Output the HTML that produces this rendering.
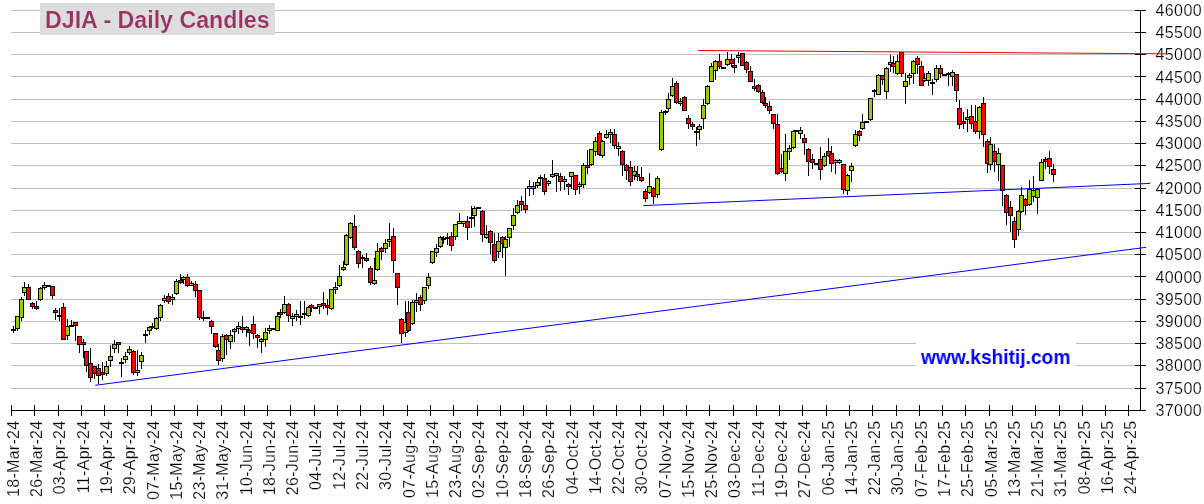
<!DOCTYPE html>
<html><head><meta charset="utf-8"><style>
html,body{margin:0;padding:0;background:#fff;}
body{width:1204px;height:504px;overflow:hidden;position:relative;}
svg{position:absolute;left:0;top:0;will-change:transform;}
.yl{font-family:"Liberation Sans",Arial,sans-serif;font-size:16px;fill:#000;stroke:#fff;stroke-width:0.2px;letter-spacing:0.4px;}
.xl{font-family:"Liberation Sans",Arial,sans-serif;font-size:16px;fill:#000;stroke:#fff;stroke-width:0.2px;text-anchor:end;letter-spacing:0.3px;}
.title{will-change:transform;position:absolute;left:40px;top:3px;width:235px;height:32px;background:#dddddd;}
.title span{position:absolute;left:4.9px;top:0.8px;transform:scaleX(0.966);transform-origin:0 0;font-family:"Liberation Sans",Arial,sans-serif;font-weight:bold;font-size:24px;line-height:32px;color:#993366;white-space:nowrap;-webkit-text-stroke:0.2px #dddddd;}
.wm{will-change:transform;position:absolute;left:921.4px;top:344.8px;transform:scaleX(0.934);transform-origin:0 0;font-family:"Liberation Sans",Arial,sans-serif;font-weight:bold;font-size:20.5px;line-height:24px;color:#0000ff;white-space:nowrap;}
</style></head><body>
<svg width="1204" height="504" viewBox="0 0 1204 504">
<line x1="11" y1="10.5" x2="1140" y2="10.5" stroke="#c0c0c0" stroke-width="1"/>
<line x1="11" y1="32.5" x2="1140" y2="32.5" stroke="#c0c0c0" stroke-width="1"/>
<line x1="11" y1="54.5" x2="1140" y2="54.5" stroke="#c0c0c0" stroke-width="1"/>
<line x1="11" y1="76.5" x2="1140" y2="76.5" stroke="#c0c0c0" stroke-width="1"/>
<line x1="11" y1="99.5" x2="1140" y2="99.5" stroke="#c0c0c0" stroke-width="1"/>
<line x1="11" y1="121.5" x2="1140" y2="121.5" stroke="#c0c0c0" stroke-width="1"/>
<line x1="11" y1="143.5" x2="1140" y2="143.5" stroke="#c0c0c0" stroke-width="1"/>
<line x1="11" y1="165.5" x2="1140" y2="165.5" stroke="#c0c0c0" stroke-width="1"/>
<line x1="11" y1="188.5" x2="1140" y2="188.5" stroke="#c0c0c0" stroke-width="1"/>
<line x1="11" y1="210.5" x2="1140" y2="210.5" stroke="#c0c0c0" stroke-width="1"/>
<line x1="11" y1="232.5" x2="1140" y2="232.5" stroke="#c0c0c0" stroke-width="1"/>
<line x1="11" y1="254.5" x2="1140" y2="254.5" stroke="#c0c0c0" stroke-width="1"/>
<line x1="11" y1="276.5" x2="1140" y2="276.5" stroke="#c0c0c0" stroke-width="1"/>
<line x1="11" y1="299.5" x2="1140" y2="299.5" stroke="#c0c0c0" stroke-width="1"/>
<line x1="11" y1="321.5" x2="1140" y2="321.5" stroke="#c0c0c0" stroke-width="1"/>
<line x1="11" y1="343.5" x2="1140" y2="343.5" stroke="#c0c0c0" stroke-width="1"/>
<line x1="11" y1="365.5" x2="1140" y2="365.5" stroke="#c0c0c0" stroke-width="1"/>
<line x1="11" y1="388.5" x2="1140" y2="388.5" stroke="#c0c0c0" stroke-width="1"/>
<rect x="916" y="338" width="160" height="34" fill="#ffffff"/>
<g shape-rendering="crispEdges" fill="#000"><rect x="13" y="326" width="1" height="7"/><rect x="11" y="329" width="5" height="2"/><rect x="17" y="316" width="1" height="15"/><rect x="15" y="316" width="5" height="13"/><rect x="16" y="317" width="3" height="11" fill="#99cc00"/><rect x="21" y="297" width="1" height="24"/><rect x="19" y="299" width="5" height="19"/><rect x="20" y="300" width="3" height="17" fill="#99cc00"/><rect x="24" y="282" width="1" height="14"/><rect x="22" y="287" width="5" height="6"/><rect x="23" y="288" width="3" height="4" fill="#99cc00"/><rect x="28" y="284" width="1" height="16"/><rect x="26" y="287" width="5" height="13"/><rect x="27" y="288" width="3" height="11" fill="#ff0000"/><rect x="32" y="302" width="1" height="7"/><rect x="30" y="303" width="5" height="4"/><rect x="31" y="304" width="3" height="2" fill="#ff0000"/><rect x="36" y="301" width="1" height="9"/><rect x="34" y="306" width="5" height="3"/><rect x="35" y="307" width="3" height="1" fill="#ff0000"/><rect x="40" y="287" width="1" height="14"/><rect x="38" y="288" width="5" height="12"/><rect x="39" y="289" width="3" height="10" fill="#99cc00"/><rect x="44" y="282" width="1" height="8"/><rect x="42" y="285" width="5" height="3"/><rect x="43" y="286" width="3" height="1" fill="#99cc00"/><rect x="46" y="285" width="5" height="2"/><rect x="52" y="286" width="1" height="13"/><rect x="50" y="286" width="5" height="10"/><rect x="51" y="287" width="3" height="8" fill="#ff0000"/><rect x="55" y="308" width="1" height="12"/><rect x="53" y="310" width="5" height="3"/><rect x="54" y="311" width="3" height="1" fill="#ff0000"/><rect x="59" y="308" width="1" height="13"/><rect x="57" y="315" width="5" height="2"/><rect x="63" y="303" width="1" height="37"/><rect x="61" y="307" width="5" height="33"/><rect x="62" y="308" width="3" height="31" fill="#ff0000"/><rect x="67" y="319" width="1" height="21"/><rect x="65" y="326" width="5" height="10"/><rect x="66" y="327" width="3" height="8" fill="#99cc00"/><rect x="71" y="320" width="1" height="7"/><rect x="69" y="325" width="5" height="2"/><rect x="75" y="322" width="1" height="19"/><rect x="73" y="322" width="5" height="4"/><rect x="74" y="323" width="3" height="2" fill="#ff0000"/><rect x="79" y="336" width="1" height="17"/><rect x="77" y="336" width="5" height="9"/><rect x="78" y="337" width="3" height="7" fill="#ff0000"/><rect x="83" y="339" width="1" height="19"/><rect x="81" y="342" width="5" height="3"/><rect x="82" y="343" width="3" height="1" fill="#ff0000"/><rect x="86" y="351" width="1" height="21"/><rect x="84" y="351" width="5" height="15"/><rect x="85" y="352" width="3" height="13" fill="#ff0000"/><rect x="90" y="348" width="1" height="34"/><rect x="88" y="363" width="5" height="15"/><rect x="89" y="364" width="3" height="13" fill="#ff0000"/><rect x="94" y="366" width="1" height="13"/><rect x="92" y="366" width="5" height="8"/><rect x="93" y="367" width="3" height="6" fill="#ff0000"/><rect x="98" y="364" width="1" height="20"/><rect x="96" y="368" width="5" height="8"/><rect x="97" y="369" width="3" height="6" fill="#ff0000"/><rect x="102" y="362" width="1" height="18"/><rect x="100" y="372" width="5" height="3"/><rect x="101" y="373" width="3" height="1" fill="#ff0000"/><rect x="106" y="361" width="1" height="15"/><rect x="104" y="366" width="5" height="8"/><rect x="105" y="367" width="3" height="6" fill="#99cc00"/><rect x="110" y="345" width="1" height="22"/><rect x="108" y="356" width="5" height="5"/><rect x="109" y="357" width="3" height="3" fill="#99cc00"/><rect x="114" y="340" width="1" height="13"/><rect x="112" y="344" width="5" height="5"/><rect x="113" y="345" width="3" height="3" fill="#99cc00"/><rect x="118" y="342" width="1" height="11"/><rect x="116" y="342" width="5" height="3"/><rect x="117" y="343" width="3" height="1" fill="#ff0000"/><rect x="121" y="358" width="1" height="19"/><rect x="119" y="362" width="5" height="2"/><rect x="125" y="352" width="1" height="11"/><rect x="123" y="356" width="5" height="4"/><rect x="124" y="357" width="3" height="2" fill="#99cc00"/><rect x="129" y="346" width="1" height="9"/><rect x="127" y="349" width="5" height="4"/><rect x="128" y="350" width="3" height="2" fill="#99cc00"/><rect x="133" y="350" width="1" height="25"/><rect x="131" y="351" width="5" height="22"/><rect x="132" y="352" width="3" height="20" fill="#ff0000"/><rect x="137" y="350" width="1" height="26"/><rect x="135" y="370" width="5" height="3"/><rect x="136" y="371" width="3" height="1" fill="#99cc00"/><rect x="141" y="352" width="1" height="17"/><rect x="139" y="355" width="5" height="7"/><rect x="140" y="356" width="3" height="5" fill="#99cc00"/><rect x="145" y="330" width="1" height="13"/><rect x="143" y="334" width="5" height="2"/><rect x="149" y="326" width="1" height="9"/><rect x="147" y="327" width="5" height="4"/><rect x="148" y="328" width="3" height="2" fill="#99cc00"/><rect x="152" y="323" width="1" height="6"/><rect x="150" y="326" width="5" height="2"/><rect x="156" y="317" width="1" height="13"/><rect x="154" y="318" width="5" height="11"/><rect x="155" y="319" width="3" height="9" fill="#99cc00"/><rect x="160" y="304" width="1" height="17"/><rect x="158" y="305" width="5" height="13"/><rect x="159" y="306" width="3" height="11" fill="#99cc00"/><rect x="164" y="295" width="1" height="8"/><rect x="162" y="298" width="5" height="3"/><rect x="163" y="299" width="3" height="1" fill="#99cc00"/><rect x="168" y="293" width="1" height="11"/><rect x="166" y="296" width="5" height="6"/><rect x="167" y="297" width="3" height="4" fill="#ff0000"/><rect x="172" y="294" width="1" height="11"/><rect x="170" y="297" width="5" height="3"/><rect x="171" y="298" width="3" height="1" fill="#99cc00"/><rect x="176" y="279" width="1" height="16"/><rect x="174" y="281" width="5" height="13"/><rect x="175" y="282" width="3" height="11" fill="#99cc00"/><rect x="180" y="274" width="1" height="10"/><rect x="178" y="280" width="5" height="3"/><rect x="179" y="281" width="3" height="1" fill="#ff0000"/><rect x="183" y="276" width="1" height="8"/><rect x="181" y="277" width="5" height="3"/><rect x="182" y="278" width="3" height="1" fill="#99cc00"/><rect x="187" y="274" width="1" height="13"/><rect x="185" y="277" width="5" height="9"/><rect x="186" y="278" width="3" height="7" fill="#ff0000"/><rect x="191" y="281" width="1" height="5"/><rect x="189" y="283" width="5" height="3"/><rect x="190" y="284" width="3" height="1" fill="#99cc00"/><rect x="195" y="281" width="1" height="16"/><rect x="193" y="284" width="5" height="7"/><rect x="194" y="285" width="3" height="5" fill="#ff0000"/><rect x="199" y="290" width="1" height="30"/><rect x="197" y="290" width="5" height="28"/><rect x="198" y="291" width="3" height="26" fill="#ff0000"/><rect x="203" y="311" width="1" height="10"/><rect x="201" y="317" width="5" height="2"/><rect x="205" y="317" width="5" height="2"/><rect x="211" y="320" width="1" height="14"/><rect x="209" y="321" width="5" height="6"/><rect x="210" y="322" width="3" height="4" fill="#ff0000"/><rect x="215" y="333" width="1" height="15"/><rect x="213" y="333" width="5" height="14"/><rect x="214" y="334" width="3" height="12" fill="#ff0000"/><rect x="218" y="344" width="1" height="21"/><rect x="216" y="350" width="5" height="11"/><rect x="217" y="351" width="3" height="9" fill="#ff0000"/><rect x="222" y="334" width="1" height="28"/><rect x="220" y="336" width="5" height="23"/><rect x="221" y="337" width="3" height="21" fill="#99cc00"/><rect x="226" y="334" width="1" height="21"/><rect x="224" y="335" width="5" height="5"/><rect x="225" y="336" width="3" height="3" fill="#ff0000"/><rect x="230" y="330" width="1" height="19"/><rect x="228" y="335" width="5" height="7"/><rect x="229" y="336" width="3" height="5" fill="#99cc00"/><rect x="234" y="328" width="1" height="14"/><rect x="232" y="329" width="5" height="3"/><rect x="233" y="330" width="3" height="1" fill="#99cc00"/><rect x="238" y="322" width="1" height="12"/><rect x="236" y="326" width="5" height="3"/><rect x="237" y="327" width="3" height="1" fill="#99cc00"/><rect x="242" y="316" width="1" height="17"/><rect x="240" y="327" width="5" height="3"/><rect x="241" y="328" width="3" height="1" fill="#ff0000"/><rect x="246" y="326" width="1" height="11"/><rect x="244" y="327" width="5" height="3"/><rect x="245" y="328" width="3" height="1" fill="#99cc00"/><rect x="249" y="329" width="1" height="17"/><rect x="247" y="330" width="5" height="3"/><rect x="248" y="331" width="3" height="1" fill="#ff0000"/><rect x="253" y="316" width="1" height="23"/><rect x="251" y="324" width="5" height="10"/><rect x="252" y="325" width="3" height="8" fill="#ff0000"/><rect x="257" y="334" width="1" height="14"/><rect x="255" y="335" width="5" height="3"/><rect x="256" y="336" width="3" height="1" fill="#ff0000"/><rect x="261" y="338" width="1" height="15"/><rect x="259" y="339" width="5" height="3"/><rect x="260" y="340" width="3" height="1" fill="#99cc00"/><rect x="265" y="328" width="1" height="19"/><rect x="263" y="332" width="5" height="8"/><rect x="264" y="333" width="3" height="6" fill="#99cc00"/><rect x="269" y="325" width="1" height="9"/><rect x="267" y="328" width="5" height="3"/><rect x="268" y="329" width="3" height="1" fill="#99cc00"/><rect x="271" y="328" width="5" height="2"/><rect x="277" y="312" width="1" height="19"/><rect x="275" y="316" width="5" height="15"/><rect x="276" y="317" width="3" height="13" fill="#99cc00"/><rect x="280" y="309" width="1" height="9"/><rect x="278" y="312" width="5" height="3"/><rect x="279" y="313" width="3" height="1" fill="#ff0000"/><rect x="284" y="296" width="1" height="18"/><rect x="282" y="304" width="5" height="9"/><rect x="283" y="305" width="3" height="7" fill="#99cc00"/><rect x="288" y="303" width="1" height="19"/><rect x="286" y="304" width="5" height="12"/><rect x="287" y="305" width="3" height="10" fill="#ff0000"/><rect x="292" y="313" width="1" height="13"/><rect x="290" y="316" width="5" height="3"/><rect x="291" y="317" width="3" height="1" fill="#99cc00"/><rect x="296" y="310" width="1" height="11"/><rect x="294" y="314" width="5" height="3"/><rect x="295" y="315" width="3" height="1" fill="#99cc00"/><rect x="300" y="301" width="1" height="24"/><rect x="298" y="316" width="5" height="2"/><rect x="304" y="301" width="1" height="18"/><rect x="302" y="313" width="5" height="2"/><rect x="308" y="306" width="1" height="11"/><rect x="306" y="307" width="5" height="9"/><rect x="307" y="308" width="3" height="7" fill="#99cc00"/><rect x="311" y="304" width="1" height="8"/><rect x="309" y="305" width="5" height="3"/><rect x="310" y="306" width="3" height="1" fill="#ff0000"/><rect x="313" y="307" width="5" height="2"/><rect x="319" y="304" width="1" height="10"/><rect x="317" y="304" width="5" height="3"/><rect x="318" y="305" width="3" height="1" fill="#99cc00"/><rect x="323" y="292" width="1" height="17"/><rect x="321" y="303" width="5" height="3"/><rect x="322" y="304" width="3" height="1" fill="#ff0000"/><rect x="327" y="299" width="1" height="16"/><rect x="325" y="305" width="5" height="3"/><rect x="326" y="306" width="3" height="1" fill="#ff0000"/><rect x="331" y="289" width="1" height="21"/><rect x="329" y="289" width="5" height="20"/><rect x="330" y="290" width="3" height="18" fill="#99cc00"/><rect x="335" y="282" width="1" height="12"/><rect x="333" y="287" width="5" height="3"/><rect x="334" y="288" width="3" height="1" fill="#99cc00"/><rect x="339" y="265" width="1" height="22"/><rect x="337" y="276" width="5" height="10"/><rect x="338" y="277" width="3" height="8" fill="#99cc00"/><rect x="343" y="261" width="1" height="10"/><rect x="341" y="267" width="5" height="3"/><rect x="342" y="268" width="3" height="1" fill="#99cc00"/><rect x="346" y="234" width="1" height="32"/><rect x="344" y="235" width="5" height="30"/><rect x="345" y="236" width="3" height="28" fill="#99cc00"/><rect x="350" y="222" width="1" height="17"/><rect x="348" y="223" width="5" height="15"/><rect x="349" y="224" width="3" height="13" fill="#99cc00"/><rect x="354" y="215" width="1" height="35"/><rect x="352" y="226" width="5" height="22"/><rect x="353" y="227" width="3" height="20" fill="#ff0000"/><rect x="358" y="250" width="1" height="18"/><rect x="356" y="251" width="5" height="13"/><rect x="357" y="252" width="3" height="11" fill="#ff0000"/><rect x="362" y="255" width="1" height="13"/><rect x="360" y="257" width="5" height="2"/><rect x="366" y="253" width="1" height="9"/><rect x="364" y="258" width="5" height="3"/><rect x="365" y="259" width="3" height="1" fill="#ff0000"/><rect x="370" y="266" width="1" height="19"/><rect x="368" y="268" width="5" height="15"/><rect x="369" y="269" width="3" height="13" fill="#ff0000"/><rect x="374" y="258" width="1" height="27"/><rect x="372" y="280" width="5" height="4"/><rect x="373" y="281" width="3" height="2" fill="#99cc00"/><rect x="377" y="243" width="1" height="28"/><rect x="375" y="251" width="5" height="19"/><rect x="376" y="252" width="3" height="17" fill="#99cc00"/><rect x="381" y="247" width="1" height="13"/><rect x="379" y="248" width="5" height="4"/><rect x="380" y="249" width="3" height="2" fill="#ff0000"/><rect x="385" y="239" width="1" height="14"/><rect x="383" y="243" width="5" height="6"/><rect x="384" y="244" width="3" height="4" fill="#99cc00"/><rect x="389" y="223" width="1" height="24"/><rect x="387" y="239" width="5" height="3"/><rect x="388" y="240" width="3" height="1" fill="#99cc00"/><rect x="393" y="228" width="1" height="45"/><rect x="391" y="236" width="5" height="25"/><rect x="392" y="237" width="3" height="23" fill="#ff0000"/><rect x="397" y="273" width="1" height="32"/><rect x="395" y="273" width="5" height="15"/><rect x="396" y="274" width="3" height="13" fill="#ff0000"/><rect x="401" y="318" width="1" height="25"/><rect x="399" y="319" width="5" height="15"/><rect x="400" y="320" width="3" height="13" fill="#ff0000"/><rect x="405" y="301" width="1" height="36"/><rect x="403" y="322" width="5" height="11"/><rect x="404" y="323" width="3" height="9" fill="#99cc00"/><rect x="408" y="301" width="1" height="31"/><rect x="406" y="312" width="5" height="19"/><rect x="407" y="313" width="3" height="17" fill="#ff0000"/><rect x="412" y="300" width="1" height="25"/><rect x="410" y="302" width="5" height="22"/><rect x="411" y="303" width="3" height="20" fill="#99cc00"/><rect x="416" y="293" width="1" height="19"/><rect x="414" y="300" width="5" height="3"/><rect x="415" y="301" width="3" height="1" fill="#99cc00"/><rect x="420" y="295" width="1" height="16"/><rect x="418" y="297" width="5" height="8"/><rect x="419" y="298" width="3" height="6" fill="#ff0000"/><rect x="424" y="287" width="1" height="17"/><rect x="422" y="287" width="5" height="14"/><rect x="423" y="288" width="3" height="12" fill="#99cc00"/><rect x="428" y="273" width="1" height="16"/><rect x="426" y="277" width="5" height="9"/><rect x="427" y="278" width="3" height="7" fill="#99cc00"/><rect x="432" y="251" width="1" height="13"/><rect x="430" y="251" width="5" height="12"/><rect x="431" y="252" width="3" height="10" fill="#99cc00"/><rect x="436" y="244" width="1" height="13"/><rect x="434" y="248" width="5" height="5"/><rect x="435" y="249" width="3" height="3" fill="#99cc00"/><rect x="440" y="236" width="1" height="12"/><rect x="438" y="237" width="5" height="10"/><rect x="439" y="238" width="3" height="8" fill="#99cc00"/><rect x="443" y="236" width="1" height="8"/><rect x="441" y="238" width="5" height="2"/><rect x="447" y="233" width="1" height="12"/><rect x="445" y="237" width="5" height="2"/><rect x="451" y="232" width="1" height="19"/><rect x="449" y="236" width="5" height="10"/><rect x="450" y="237" width="3" height="8" fill="#ff0000"/><rect x="455" y="224" width="1" height="16"/><rect x="453" y="224" width="5" height="13"/><rect x="454" y="225" width="3" height="11" fill="#99cc00"/><rect x="459" y="213" width="1" height="11"/><rect x="457" y="221" width="5" height="3"/><rect x="458" y="222" width="3" height="1" fill="#99cc00"/><rect x="463" y="221" width="1" height="6"/><rect x="461" y="221" width="5" height="3"/><rect x="462" y="222" width="3" height="1" fill="#99cc00"/><rect x="467" y="216" width="1" height="24"/><rect x="465" y="221" width="5" height="7"/><rect x="466" y="222" width="3" height="5" fill="#ff0000"/><rect x="471" y="206" width="1" height="22"/><rect x="469" y="217" width="5" height="2"/><rect x="474" y="206" width="1" height="21"/><rect x="472" y="208" width="5" height="8"/><rect x="473" y="209" width="3" height="6" fill="#99cc00"/><rect x="476" y="207" width="5" height="2"/><rect x="482" y="210" width="1" height="32"/><rect x="480" y="211" width="5" height="24"/><rect x="481" y="212" width="3" height="22" fill="#ff0000"/><rect x="486" y="225" width="1" height="14"/><rect x="484" y="234" width="5" height="4"/><rect x="485" y="235" width="3" height="2" fill="#99cc00"/><rect x="490" y="230" width="1" height="24"/><rect x="488" y="231" width="5" height="12"/><rect x="489" y="232" width="3" height="10" fill="#ff0000"/><rect x="494" y="233" width="1" height="30"/><rect x="492" y="244" width="5" height="17"/><rect x="493" y="245" width="3" height="15" fill="#ff0000"/><rect x="498" y="233" width="1" height="25"/><rect x="496" y="241" width="5" height="11"/><rect x="497" y="242" width="3" height="9" fill="#99cc00"/><rect x="502" y="236" width="1" height="22"/><rect x="500" y="237" width="5" height="7"/><rect x="501" y="238" width="3" height="5" fill="#ff0000"/><rect x="505" y="236" width="1" height="40"/><rect x="503" y="239" width="5" height="9"/><rect x="504" y="240" width="3" height="7" fill="#99cc00"/><rect x="509" y="228" width="1" height="19"/><rect x="507" y="228" width="5" height="10"/><rect x="508" y="229" width="3" height="8" fill="#99cc00"/><rect x="513" y="208" width="1" height="22"/><rect x="511" y="215" width="5" height="11"/><rect x="512" y="216" width="3" height="9" fill="#99cc00"/><rect x="517" y="200" width="1" height="14"/><rect x="515" y="205" width="5" height="8"/><rect x="516" y="206" width="3" height="6" fill="#99cc00"/><rect x="521" y="196" width="1" height="15"/><rect x="519" y="201" width="5" height="4"/><rect x="520" y="202" width="3" height="2" fill="#ff0000"/><rect x="525" y="188" width="1" height="25"/><rect x="523" y="205" width="5" height="5"/><rect x="524" y="206" width="3" height="3" fill="#ff0000"/><rect x="529" y="180" width="1" height="16"/><rect x="527" y="186" width="5" height="3"/><rect x="528" y="187" width="3" height="1" fill="#99cc00"/><rect x="533" y="182" width="1" height="13"/><rect x="531" y="186" width="5" height="3"/><rect x="532" y="187" width="3" height="1" fill="#99cc00"/><rect x="537" y="179" width="1" height="9"/><rect x="535" y="182" width="5" height="4"/><rect x="536" y="183" width="3" height="2" fill="#99cc00"/><rect x="540" y="175" width="1" height="11"/><rect x="538" y="177" width="5" height="2"/><rect x="544" y="174" width="1" height="21"/><rect x="542" y="178" width="5" height="14"/><rect x="543" y="179" width="3" height="12" fill="#ff0000"/><rect x="548" y="180" width="1" height="6"/><rect x="546" y="181" width="5" height="3"/><rect x="547" y="182" width="3" height="1" fill="#99cc00"/><rect x="552" y="160" width="1" height="18"/><rect x="550" y="174" width="5" height="3"/><rect x="551" y="175" width="3" height="1" fill="#99cc00"/><rect x="556" y="173" width="1" height="19"/><rect x="554" y="173" width="5" height="3"/><rect x="555" y="174" width="3" height="1" fill="#99cc00"/><rect x="560" y="173" width="1" height="18"/><rect x="558" y="176" width="5" height="6"/><rect x="559" y="177" width="3" height="4" fill="#ff0000"/><rect x="564" y="176" width="1" height="14"/><rect x="562" y="179" width="5" height="3"/><rect x="563" y="180" width="3" height="1" fill="#99cc00"/><rect x="568" y="183" width="1" height="12"/><rect x="566" y="184" width="5" height="3"/><rect x="567" y="185" width="3" height="1" fill="#ff0000"/><rect x="571" y="172" width="1" height="17"/><rect x="569" y="172" width="5" height="5"/><rect x="570" y="173" width="3" height="3" fill="#99cc00"/><rect x="575" y="175" width="1" height="20"/><rect x="573" y="175" width="5" height="15"/><rect x="574" y="176" width="3" height="13" fill="#ff0000"/><rect x="579" y="182" width="1" height="12"/><rect x="577" y="184" width="5" height="3"/><rect x="578" y="185" width="3" height="1" fill="#99cc00"/><rect x="583" y="163" width="1" height="25"/><rect x="581" y="165" width="5" height="20"/><rect x="582" y="166" width="3" height="18" fill="#99cc00"/><rect x="587" y="150" width="1" height="24"/><rect x="585" y="165" width="5" height="3"/><rect x="586" y="166" width="3" height="1" fill="#ff0000"/><rect x="591" y="149" width="1" height="17"/><rect x="589" y="149" width="5" height="16"/><rect x="590" y="150" width="3" height="14" fill="#99cc00"/><rect x="595" y="137" width="1" height="19"/><rect x="593" y="141" width="5" height="11"/><rect x="594" y="142" width="3" height="9" fill="#99cc00"/><rect x="599" y="131" width="1" height="25"/><rect x="597" y="133" width="5" height="22"/><rect x="598" y="134" width="3" height="20" fill="#ff0000"/><rect x="602" y="140" width="1" height="18"/><rect x="600" y="141" width="5" height="15"/><rect x="601" y="142" width="3" height="13" fill="#99cc00"/><rect x="606" y="130" width="1" height="9"/><rect x="604" y="134" width="5" height="4"/><rect x="605" y="135" width="3" height="2" fill="#99cc00"/><rect x="610" y="129" width="1" height="14"/><rect x="608" y="132" width="5" height="3"/><rect x="609" y="133" width="3" height="1" fill="#99cc00"/><rect x="614" y="129" width="1" height="20"/><rect x="612" y="134" width="5" height="12"/><rect x="613" y="135" width="3" height="10" fill="#ff0000"/><rect x="618" y="142" width="1" height="14"/><rect x="616" y="146" width="5" height="3"/><rect x="617" y="147" width="3" height="1" fill="#99cc00"/><rect x="622" y="150" width="1" height="26"/><rect x="620" y="151" width="5" height="14"/><rect x="621" y="152" width="3" height="12" fill="#ff0000"/><rect x="626" y="164" width="1" height="16"/><rect x="624" y="165" width="5" height="6"/><rect x="625" y="166" width="3" height="4" fill="#ff0000"/><rect x="630" y="161" width="1" height="25"/><rect x="628" y="167" width="5" height="15"/><rect x="629" y="168" width="3" height="13" fill="#ff0000"/><rect x="634" y="166" width="1" height="14"/><rect x="632" y="171" width="5" height="5"/><rect x="633" y="172" width="3" height="3" fill="#99cc00"/><rect x="637" y="166" width="1" height="15"/><rect x="635" y="174" width="5" height="3"/><rect x="636" y="175" width="3" height="1" fill="#ff0000"/><rect x="641" y="167" width="1" height="15"/><rect x="639" y="177" width="5" height="4"/><rect x="640" y="178" width="3" height="2" fill="#ff0000"/><rect x="645" y="189" width="1" height="13"/><rect x="643" y="191" width="5" height="8"/><rect x="644" y="192" width="3" height="6" fill="#ff0000"/><rect x="649" y="173" width="1" height="21"/><rect x="647" y="186" width="5" height="7"/><rect x="648" y="187" width="3" height="5" fill="#99cc00"/><rect x="653" y="187" width="1" height="17"/><rect x="651" y="188" width="5" height="9"/><rect x="652" y="189" width="3" height="7" fill="#ff0000"/><rect x="657" y="176" width="1" height="22"/><rect x="655" y="178" width="5" height="17"/><rect x="656" y="179" width="3" height="15" fill="#99cc00"/><rect x="661" y="110" width="1" height="41"/><rect x="659" y="112" width="5" height="38"/><rect x="660" y="113" width="3" height="36" fill="#99cc00"/><rect x="665" y="110" width="1" height="5"/><rect x="663" y="111" width="5" height="2"/><rect x="668" y="93" width="1" height="19"/><rect x="666" y="99" width="5" height="10"/><rect x="667" y="100" width="3" height="8" fill="#99cc00"/><rect x="672" y="78" width="1" height="19"/><rect x="670" y="86" width="5" height="10"/><rect x="671" y="87" width="3" height="8" fill="#99cc00"/><rect x="676" y="81" width="1" height="23"/><rect x="674" y="83" width="5" height="20"/><rect x="675" y="84" width="3" height="18" fill="#ff0000"/><rect x="680" y="98" width="1" height="8"/><rect x="678" y="101" width="5" height="3"/><rect x="679" y="102" width="3" height="1" fill="#99cc00"/><rect x="684" y="96" width="1" height="15"/><rect x="682" y="97" width="5" height="14"/><rect x="683" y="98" width="3" height="12" fill="#ff0000"/><rect x="688" y="115" width="1" height="14"/><rect x="686" y="118" width="5" height="6"/><rect x="687" y="119" width="3" height="4" fill="#ff0000"/><rect x="692" y="122" width="1" height="8"/><rect x="690" y="124" width="5" height="3"/><rect x="691" y="125" width="3" height="1" fill="#ff0000"/><rect x="696" y="127" width="1" height="19"/><rect x="694" y="131" width="5" height="2"/><rect x="699" y="124" width="1" height="16"/><rect x="697" y="126" width="5" height="4"/><rect x="698" y="127" width="3" height="2" fill="#99cc00"/><rect x="703" y="99" width="1" height="30"/><rect x="701" y="105" width="5" height="14"/><rect x="702" y="106" width="3" height="12" fill="#99cc00"/><rect x="707" y="85" width="1" height="20"/><rect x="705" y="86" width="5" height="18"/><rect x="706" y="87" width="3" height="16" fill="#99cc00"/><rect x="711" y="63" width="1" height="19"/><rect x="709" y="66" width="5" height="16"/><rect x="710" y="67" width="3" height="14" fill="#99cc00"/><rect x="715" y="60" width="1" height="20"/><rect x="713" y="61" width="5" height="10"/><rect x="714" y="62" width="3" height="8" fill="#99cc00"/><rect x="719" y="54" width="1" height="15"/><rect x="717" y="61" width="5" height="6"/><rect x="718" y="62" width="3" height="4" fill="#ff0000"/><rect x="721" y="67" width="5" height="2"/><rect x="727" y="52" width="1" height="14"/><rect x="725" y="59" width="5" height="6"/><rect x="726" y="60" width="3" height="4" fill="#99cc00"/><rect x="731" y="54" width="1" height="13"/><rect x="729" y="59" width="5" height="5"/><rect x="730" y="60" width="3" height="3" fill="#ff0000"/><rect x="734" y="58" width="1" height="15"/><rect x="732" y="65" width="5" height="3"/><rect x="733" y="66" width="3" height="1" fill="#ff0000"/><rect x="738" y="52" width="1" height="11"/><rect x="736" y="55" width="5" height="3"/><rect x="737" y="56" width="3" height="1" fill="#99cc00"/><rect x="742" y="53" width="1" height="13"/><rect x="740" y="53" width="5" height="13"/><rect x="741" y="54" width="3" height="11" fill="#ff0000"/><rect x="746" y="61" width="1" height="12"/><rect x="744" y="62" width="5" height="8"/><rect x="745" y="63" width="3" height="6" fill="#ff0000"/><rect x="750" y="66" width="1" height="16"/><rect x="748" y="71" width="5" height="11"/><rect x="749" y="72" width="3" height="9" fill="#ff0000"/><rect x="754" y="79" width="1" height="12"/><rect x="752" y="86" width="5" height="3"/><rect x="753" y="87" width="3" height="1" fill="#ff0000"/><rect x="758" y="84" width="1" height="9"/><rect x="756" y="85" width="5" height="7"/><rect x="757" y="86" width="3" height="5" fill="#ff0000"/><rect x="762" y="90" width="1" height="14"/><rect x="760" y="92" width="5" height="11"/><rect x="761" y="93" width="3" height="9" fill="#ff0000"/><rect x="765" y="97" width="1" height="11"/><rect x="763" y="103" width="5" height="3"/><rect x="764" y="104" width="3" height="1" fill="#ff0000"/><rect x="769" y="101" width="1" height="13"/><rect x="767" y="106" width="5" height="5"/><rect x="768" y="107" width="3" height="3" fill="#ff0000"/><rect x="773" y="114" width="1" height="15"/><rect x="771" y="114" width="5" height="10"/><rect x="772" y="115" width="3" height="8" fill="#ff0000"/><rect x="777" y="114" width="1" height="61"/><rect x="775" y="124" width="5" height="50"/><rect x="776" y="125" width="3" height="48" fill="#ff0000"/><rect x="781" y="154" width="1" height="19"/><rect x="779" y="168" width="5" height="4"/><rect x="780" y="169" width="3" height="2" fill="#ff0000"/><rect x="785" y="134" width="1" height="47"/><rect x="783" y="151" width="5" height="23"/><rect x="784" y="152" width="3" height="21" fill="#99cc00"/><rect x="789" y="145" width="1" height="15"/><rect x="787" y="148" width="5" height="4"/><rect x="788" y="149" width="3" height="2" fill="#99cc00"/><rect x="793" y="130" width="1" height="19"/><rect x="791" y="131" width="5" height="17"/><rect x="792" y="132" width="3" height="15" fill="#99cc00"/><rect x="794" y="130" width="5" height="2"/><rect x="800" y="127" width="1" height="12"/><rect x="798" y="130" width="5" height="4"/><rect x="799" y="131" width="3" height="2" fill="#99cc00"/><rect x="804" y="134" width="1" height="21"/><rect x="802" y="138" width="5" height="5"/><rect x="803" y="139" width="3" height="3" fill="#ff0000"/><rect x="808" y="148" width="1" height="28"/><rect x="806" y="149" width="5" height="13"/><rect x="807" y="150" width="3" height="11" fill="#ff0000"/><rect x="812" y="154" width="1" height="15"/><rect x="810" y="159" width="5" height="4"/><rect x="811" y="160" width="3" height="2" fill="#ff0000"/><rect x="814" y="163" width="5" height="2"/><rect x="820" y="147" width="1" height="33"/><rect x="818" y="159" width="5" height="11"/><rect x="819" y="160" width="3" height="9" fill="#ff0000"/><rect x="824" y="153" width="1" height="14"/><rect x="822" y="156" width="5" height="10"/><rect x="823" y="157" width="3" height="8" fill="#99cc00"/><rect x="828" y="138" width="1" height="19"/><rect x="826" y="151" width="5" height="5"/><rect x="827" y="152" width="3" height="3" fill="#ff0000"/><rect x="831" y="146" width="1" height="26"/><rect x="829" y="153" width="5" height="11"/><rect x="830" y="154" width="3" height="9" fill="#ff0000"/><rect x="835" y="159" width="1" height="15"/><rect x="833" y="160" width="5" height="3"/><rect x="834" y="161" width="3" height="1" fill="#99cc00"/><rect x="839" y="159" width="1" height="5"/><rect x="837" y="160" width="5" height="3"/><rect x="838" y="161" width="3" height="1" fill="#99cc00"/><rect x="843" y="164" width="1" height="30"/><rect x="841" y="164" width="5" height="26"/><rect x="842" y="165" width="3" height="24" fill="#ff0000"/><rect x="847" y="174" width="1" height="21"/><rect x="845" y="175" width="5" height="16"/><rect x="846" y="176" width="3" height="14" fill="#99cc00"/><rect x="851" y="163" width="1" height="19"/><rect x="849" y="166" width="5" height="5"/><rect x="850" y="167" width="3" height="3" fill="#99cc00"/><rect x="855" y="130" width="1" height="17"/><rect x="853" y="134" width="5" height="12"/><rect x="854" y="135" width="3" height="10" fill="#99cc00"/><rect x="859" y="130" width="1" height="11"/><rect x="857" y="131" width="5" height="5"/><rect x="858" y="132" width="3" height="3" fill="#ff0000"/><rect x="862" y="114" width="1" height="16"/><rect x="860" y="122" width="5" height="7"/><rect x="861" y="123" width="3" height="5" fill="#99cc00"/><rect x="864" y="121" width="5" height="2"/><rect x="870" y="98" width="1" height="23"/><rect x="868" y="98" width="5" height="22"/><rect x="869" y="99" width="3" height="20" fill="#99cc00"/><rect x="874" y="89" width="1" height="8"/><rect x="872" y="90" width="5" height="2"/><rect x="878" y="74" width="1" height="21"/><rect x="876" y="75" width="5" height="20"/><rect x="877" y="76" width="3" height="18" fill="#99cc00"/><rect x="882" y="75" width="1" height="10"/><rect x="880" y="75" width="5" height="5"/><rect x="881" y="76" width="3" height="3" fill="#ff0000"/><rect x="886" y="67" width="1" height="32"/><rect x="884" y="68" width="5" height="24"/><rect x="885" y="69" width="3" height="22" fill="#99cc00"/><rect x="890" y="55" width="1" height="17"/><rect x="888" y="62" width="5" height="3"/><rect x="889" y="63" width="3" height="1" fill="#99cc00"/><rect x="893" y="56" width="1" height="17"/><rect x="891" y="63" width="5" height="4"/><rect x="892" y="64" width="3" height="2" fill="#ff0000"/><rect x="897" y="55" width="1" height="20"/><rect x="895" y="61" width="5" height="13"/><rect x="896" y="62" width="3" height="11" fill="#99cc00"/><rect x="901" y="52" width="1" height="25"/><rect x="899" y="52" width="5" height="22"/><rect x="900" y="53" width="3" height="20" fill="#ff0000"/><rect x="905" y="73" width="1" height="31"/><rect x="903" y="81" width="5" height="6"/><rect x="904" y="82" width="3" height="4" fill="#99cc00"/><rect x="909" y="73" width="1" height="12"/><rect x="907" y="75" width="5" height="3"/><rect x="908" y="76" width="3" height="1" fill="#99cc00"/><rect x="913" y="60" width="1" height="24"/><rect x="911" y="61" width="5" height="13"/><rect x="912" y="62" width="3" height="11" fill="#99cc00"/><rect x="917" y="56" width="1" height="18"/><rect x="915" y="58" width="5" height="7"/><rect x="916" y="59" width="3" height="5" fill="#ff0000"/><rect x="921" y="61" width="1" height="25"/><rect x="919" y="66" width="5" height="20"/><rect x="920" y="67" width="3" height="18" fill="#ff0000"/><rect x="924" y="73" width="1" height="9"/><rect x="922" y="78" width="5" height="3"/><rect x="923" y="79" width="3" height="1" fill="#99cc00"/><rect x="928" y="71" width="1" height="15"/><rect x="926" y="73" width="5" height="8"/><rect x="927" y="74" width="3" height="6" fill="#99cc00"/><rect x="932" y="79" width="1" height="16"/><rect x="930" y="82" width="5" height="2"/><rect x="936" y="65" width="1" height="17"/><rect x="934" y="68" width="5" height="12"/><rect x="935" y="69" width="3" height="10" fill="#99cc00"/><rect x="940" y="65" width="1" height="13"/><rect x="938" y="68" width="5" height="6"/><rect x="939" y="69" width="3" height="4" fill="#ff0000"/><rect x="942" y="74" width="5" height="2"/><rect x="948" y="72" width="1" height="14"/><rect x="946" y="73" width="5" height="2"/><rect x="952" y="70" width="1" height="16"/><rect x="950" y="72" width="5" height="5"/><rect x="951" y="73" width="3" height="3" fill="#99cc00"/><rect x="956" y="74" width="1" height="28"/><rect x="954" y="74" width="5" height="17"/><rect x="955" y="75" width="3" height="15" fill="#ff0000"/><rect x="959" y="100" width="1" height="29"/><rect x="957" y="108" width="5" height="17"/><rect x="958" y="109" width="3" height="15" fill="#ff0000"/><rect x="963" y="112" width="1" height="17"/><rect x="961" y="121" width="5" height="3"/><rect x="962" y="122" width="3" height="1" fill="#ff0000"/><rect x="967" y="109" width="1" height="23"/><rect x="965" y="117" width="5" height="3"/><rect x="966" y="118" width="3" height="1" fill="#99cc00"/><rect x="971" y="105" width="1" height="24"/><rect x="969" y="116" width="5" height="8"/><rect x="970" y="117" width="3" height="6" fill="#ff0000"/><rect x="975" y="105" width="1" height="29"/><rect x="973" y="121" width="5" height="11"/><rect x="974" y="122" width="3" height="9" fill="#ff0000"/><rect x="979" y="106" width="1" height="33"/><rect x="977" y="107" width="5" height="25"/><rect x="978" y="108" width="3" height="23" fill="#99cc00"/><rect x="983" y="97" width="1" height="50"/><rect x="981" y="103" width="5" height="32"/><rect x="982" y="104" width="3" height="30" fill="#ff0000"/><rect x="987" y="139" width="1" height="34"/><rect x="985" y="141" width="5" height="23"/><rect x="986" y="142" width="3" height="21" fill="#ff0000"/><rect x="990" y="137" width="1" height="33"/><rect x="988" y="144" width="5" height="21"/><rect x="989" y="145" width="3" height="19" fill="#99cc00"/><rect x="994" y="144" width="1" height="28"/><rect x="992" y="151" width="5" height="11"/><rect x="993" y="152" width="3" height="9" fill="#ff0000"/><rect x="998" y="148" width="1" height="33"/><rect x="996" y="153" width="5" height="12"/><rect x="997" y="154" width="3" height="10" fill="#99cc00"/><rect x="1002" y="165" width="1" height="41"/><rect x="1000" y="165" width="5" height="26"/><rect x="1001" y="166" width="3" height="24" fill="#ff0000"/><rect x="1006" y="194" width="1" height="31"/><rect x="1004" y="195" width="5" height="18"/><rect x="1005" y="196" width="3" height="16" fill="#ff0000"/><rect x="1010" y="201" width="1" height="31"/><rect x="1008" y="207" width="5" height="9"/><rect x="1009" y="208" width="3" height="7" fill="#ff0000"/><rect x="1014" y="217" width="1" height="31"/><rect x="1012" y="221" width="5" height="19"/><rect x="1013" y="222" width="3" height="17" fill="#ff0000"/><rect x="1018" y="210" width="1" height="26"/><rect x="1016" y="211" width="5" height="19"/><rect x="1017" y="212" width="3" height="17" fill="#99cc00"/><rect x="1021" y="187" width="1" height="26"/><rect x="1019" y="195" width="5" height="17"/><rect x="1020" y="196" width="3" height="15" fill="#99cc00"/><rect x="1025" y="198" width="1" height="17"/><rect x="1023" y="199" width="5" height="7"/><rect x="1024" y="200" width="3" height="5" fill="#ff0000"/><rect x="1029" y="180" width="1" height="26"/><rect x="1027" y="189" width="5" height="16"/><rect x="1028" y="190" width="3" height="14" fill="#99cc00"/><rect x="1033" y="176" width="1" height="26"/><rect x="1031" y="190" width="5" height="7"/><rect x="1032" y="191" width="3" height="5" fill="#99cc00"/><rect x="1037" y="188" width="1" height="26"/><rect x="1035" y="189" width="5" height="9"/><rect x="1036" y="190" width="3" height="7" fill="#99cc00"/><rect x="1041" y="159" width="1" height="22"/><rect x="1039" y="162" width="5" height="19"/><rect x="1040" y="163" width="3" height="17" fill="#99cc00"/><rect x="1045" y="157" width="1" height="12"/><rect x="1043" y="159" width="5" height="3"/><rect x="1044" y="160" width="3" height="1" fill="#ff0000"/><rect x="1049" y="151" width="1" height="23"/><rect x="1047" y="158" width="5" height="9"/><rect x="1048" y="159" width="3" height="7" fill="#ff0000"/><rect x="1053" y="164" width="1" height="18"/><rect x="1051" y="169" width="5" height="6"/><rect x="1052" y="170" width="3" height="4" fill="#ff0000"/></g>
<line x1="1140.5" y1="10" x2="1140.5" y2="410.5" stroke="#000" stroke-width="1"/>
<line x1="11" y1="410.5" x2="1146" y2="410.5" stroke="#000" stroke-width="1"/>
<line x1="1135" y1="10.5" x2="1146" y2="10.5" stroke="#000" stroke-width="1"/>
<line x1="1135" y1="32.5" x2="1146" y2="32.5" stroke="#000" stroke-width="1"/>
<line x1="1135" y1="54.5" x2="1146" y2="54.5" stroke="#000" stroke-width="1"/>
<line x1="1135" y1="76.5" x2="1146" y2="76.5" stroke="#000" stroke-width="1"/>
<line x1="1135" y1="99.5" x2="1146" y2="99.5" stroke="#000" stroke-width="1"/>
<line x1="1135" y1="121.5" x2="1146" y2="121.5" stroke="#000" stroke-width="1"/>
<line x1="1135" y1="143.5" x2="1146" y2="143.5" stroke="#000" stroke-width="1"/>
<line x1="1135" y1="165.5" x2="1146" y2="165.5" stroke="#000" stroke-width="1"/>
<line x1="1135" y1="188.5" x2="1146" y2="188.5" stroke="#000" stroke-width="1"/>
<line x1="1135" y1="210.5" x2="1146" y2="210.5" stroke="#000" stroke-width="1"/>
<line x1="1135" y1="232.5" x2="1146" y2="232.5" stroke="#000" stroke-width="1"/>
<line x1="1135" y1="254.5" x2="1146" y2="254.5" stroke="#000" stroke-width="1"/>
<line x1="1135" y1="276.5" x2="1146" y2="276.5" stroke="#000" stroke-width="1"/>
<line x1="1135" y1="299.5" x2="1146" y2="299.5" stroke="#000" stroke-width="1"/>
<line x1="1135" y1="321.5" x2="1146" y2="321.5" stroke="#000" stroke-width="1"/>
<line x1="1135" y1="343.5" x2="1146" y2="343.5" stroke="#000" stroke-width="1"/>
<line x1="1135" y1="365.5" x2="1146" y2="365.5" stroke="#000" stroke-width="1"/>
<line x1="1135" y1="388.5" x2="1146" y2="388.5" stroke="#000" stroke-width="1"/>
<line x1="1135" y1="410.5" x2="1146" y2="410.5" stroke="#000" stroke-width="1"/>
<line x1="11.5" y1="405" x2="11.5" y2="416" stroke="#000" stroke-width="1"/>
<line x1="34.5" y1="405" x2="34.5" y2="416" stroke="#000" stroke-width="1"/>
<line x1="58.5" y1="405" x2="58.5" y2="416" stroke="#000" stroke-width="1"/>
<line x1="81.5" y1="405" x2="81.5" y2="416" stroke="#000" stroke-width="1"/>
<line x1="104.5" y1="405" x2="104.5" y2="416" stroke="#000" stroke-width="1"/>
<line x1="127.5" y1="405" x2="127.5" y2="416" stroke="#000" stroke-width="1"/>
<line x1="151.5" y1="405" x2="151.5" y2="416" stroke="#000" stroke-width="1"/>
<line x1="174.5" y1="405" x2="174.5" y2="416" stroke="#000" stroke-width="1"/>
<line x1="197.5" y1="405" x2="197.5" y2="416" stroke="#000" stroke-width="1"/>
<line x1="221.5" y1="405" x2="221.5" y2="416" stroke="#000" stroke-width="1"/>
<line x1="244.5" y1="405" x2="244.5" y2="416" stroke="#000" stroke-width="1"/>
<line x1="267.5" y1="405" x2="267.5" y2="416" stroke="#000" stroke-width="1"/>
<line x1="290.5" y1="405" x2="290.5" y2="416" stroke="#000" stroke-width="1"/>
<line x1="314.5" y1="405" x2="314.5" y2="416" stroke="#000" stroke-width="1"/>
<line x1="337.5" y1="405" x2="337.5" y2="416" stroke="#000" stroke-width="1"/>
<line x1="360.5" y1="405" x2="360.5" y2="416" stroke="#000" stroke-width="1"/>
<line x1="383.5" y1="405" x2="383.5" y2="416" stroke="#000" stroke-width="1"/>
<line x1="407.5" y1="405" x2="407.5" y2="416" stroke="#000" stroke-width="1"/>
<line x1="430.5" y1="405" x2="430.5" y2="416" stroke="#000" stroke-width="1"/>
<line x1="453.5" y1="405" x2="453.5" y2="416" stroke="#000" stroke-width="1"/>
<line x1="477.5" y1="405" x2="477.5" y2="416" stroke="#000" stroke-width="1"/>
<line x1="500.5" y1="405" x2="500.5" y2="416" stroke="#000" stroke-width="1"/>
<line x1="523.5" y1="405" x2="523.5" y2="416" stroke="#000" stroke-width="1"/>
<line x1="546.5" y1="405" x2="546.5" y2="416" stroke="#000" stroke-width="1"/>
<line x1="570.5" y1="405" x2="570.5" y2="416" stroke="#000" stroke-width="1"/>
<line x1="593.5" y1="405" x2="593.5" y2="416" stroke="#000" stroke-width="1"/>
<line x1="616.5" y1="405" x2="616.5" y2="416" stroke="#000" stroke-width="1"/>
<line x1="640.5" y1="405" x2="640.5" y2="416" stroke="#000" stroke-width="1"/>
<line x1="663.5" y1="405" x2="663.5" y2="416" stroke="#000" stroke-width="1"/>
<line x1="686.5" y1="405" x2="686.5" y2="416" stroke="#000" stroke-width="1"/>
<line x1="709.5" y1="405" x2="709.5" y2="416" stroke="#000" stroke-width="1"/>
<line x1="733.5" y1="405" x2="733.5" y2="416" stroke="#000" stroke-width="1"/>
<line x1="756.5" y1="405" x2="756.5" y2="416" stroke="#000" stroke-width="1"/>
<line x1="779.5" y1="405" x2="779.5" y2="416" stroke="#000" stroke-width="1"/>
<line x1="802.5" y1="405" x2="802.5" y2="416" stroke="#000" stroke-width="1"/>
<line x1="826.5" y1="405" x2="826.5" y2="416" stroke="#000" stroke-width="1"/>
<line x1="849.5" y1="405" x2="849.5" y2="416" stroke="#000" stroke-width="1"/>
<line x1="872.5" y1="405" x2="872.5" y2="416" stroke="#000" stroke-width="1"/>
<line x1="896.5" y1="405" x2="896.5" y2="416" stroke="#000" stroke-width="1"/>
<line x1="919.5" y1="405" x2="919.5" y2="416" stroke="#000" stroke-width="1"/>
<line x1="942.5" y1="405" x2="942.5" y2="416" stroke="#000" stroke-width="1"/>
<line x1="965.5" y1="405" x2="965.5" y2="416" stroke="#000" stroke-width="1"/>
<line x1="989.5" y1="405" x2="989.5" y2="416" stroke="#000" stroke-width="1"/>
<line x1="1012.5" y1="405" x2="1012.5" y2="416" stroke="#000" stroke-width="1"/>
<line x1="1035.5" y1="405" x2="1035.5" y2="416" stroke="#000" stroke-width="1"/>
<line x1="1059.5" y1="405" x2="1059.5" y2="416" stroke="#000" stroke-width="1"/>
<line x1="1082.5" y1="405" x2="1082.5" y2="416" stroke="#000" stroke-width="1"/>
<line x1="1105.5" y1="405" x2="1105.5" y2="416" stroke="#000" stroke-width="1"/>
<line x1="1128.5" y1="405" x2="1128.5" y2="416" stroke="#000" stroke-width="1"/>
<text x="1155.5" y="15.8" class="yl">46000</text>
<text x="1155.5" y="38.0" class="yl">45500</text>
<text x="1155.5" y="60.2" class="yl">45000</text>
<text x="1155.5" y="82.5" class="yl">44500</text>
<text x="1155.5" y="104.7" class="yl">44000</text>
<text x="1155.5" y="126.9" class="yl">43500</text>
<text x="1155.5" y="149.1" class="yl">43000</text>
<text x="1155.5" y="171.4" class="yl">42500</text>
<text x="1155.5" y="193.6" class="yl">42000</text>
<text x="1155.5" y="215.8" class="yl">41500</text>
<text x="1155.5" y="238.0" class="yl">41000</text>
<text x="1155.5" y="260.2" class="yl">40500</text>
<text x="1155.5" y="282.5" class="yl">40000</text>
<text x="1155.5" y="304.7" class="yl">39500</text>
<text x="1155.5" y="326.9" class="yl">39000</text>
<text x="1155.5" y="349.1" class="yl">38500</text>
<text x="1155.5" y="371.4" class="yl">38000</text>
<text x="1155.5" y="393.6" class="yl">37500</text>
<text x="1155.5" y="415.8" class="yl">37000</text>
<text transform="translate(18.84,420.5) rotate(-90)" class="xl">18-Mar-24</text>
<text transform="translate(42.12,420.5) rotate(-90)" class="xl">26-Mar-24</text>
<text transform="translate(65.40,420.5) rotate(-90)" class="xl">03-Apr-24</text>
<text transform="translate(88.67,420.5) rotate(-90)" class="xl">11-Apr-24</text>
<text transform="translate(111.95,420.5) rotate(-90)" class="xl">19-Apr-24</text>
<text transform="translate(135.23,420.5) rotate(-90)" class="xl">29-Apr-24</text>
<text transform="translate(158.51,420.5) rotate(-90)" class="xl">07-May-24</text>
<text transform="translate(181.79,420.5) rotate(-90)" class="xl">15-May-24</text>
<text transform="translate(205.07,420.5) rotate(-90)" class="xl">23-May-24</text>
<text transform="translate(228.35,420.5) rotate(-90)" class="xl">31-May-24</text>
<text transform="translate(251.62,420.5) rotate(-90)" class="xl">10-Jun-24</text>
<text transform="translate(274.90,420.5) rotate(-90)" class="xl">18-Jun-24</text>
<text transform="translate(298.18,420.5) rotate(-90)" class="xl">26-Jun-24</text>
<text transform="translate(321.46,420.5) rotate(-90)" class="xl">04-Jul-24</text>
<text transform="translate(344.74,420.5) rotate(-90)" class="xl">12-Jul-24</text>
<text transform="translate(368.02,420.5) rotate(-90)" class="xl">22-Jul-24</text>
<text transform="translate(391.29,420.5) rotate(-90)" class="xl">30-Jul-24</text>
<text transform="translate(414.57,420.5) rotate(-90)" class="xl">07-Aug-24</text>
<text transform="translate(437.85,420.5) rotate(-90)" class="xl">15-Aug-24</text>
<text transform="translate(461.13,420.5) rotate(-90)" class="xl">23-Aug-24</text>
<text transform="translate(484.41,420.5) rotate(-90)" class="xl">02-Sep-24</text>
<text transform="translate(507.69,420.5) rotate(-90)" class="xl">10-Sep-24</text>
<text transform="translate(530.96,420.5) rotate(-90)" class="xl">18-Sep-24</text>
<text transform="translate(554.24,420.5) rotate(-90)" class="xl">26-Sep-24</text>
<text transform="translate(577.52,420.5) rotate(-90)" class="xl">04-Oct-24</text>
<text transform="translate(600.80,420.5) rotate(-90)" class="xl">14-Oct-24</text>
<text transform="translate(624.08,420.5) rotate(-90)" class="xl">22-Oct-24</text>
<text transform="translate(647.36,420.5) rotate(-90)" class="xl">30-Oct-24</text>
<text transform="translate(670.63,420.5) rotate(-90)" class="xl">07-Nov-24</text>
<text transform="translate(693.91,420.5) rotate(-90)" class="xl">15-Nov-24</text>
<text transform="translate(717.19,420.5) rotate(-90)" class="xl">25-Nov-24</text>
<text transform="translate(740.47,420.5) rotate(-90)" class="xl">03-Dec-24</text>
<text transform="translate(763.75,420.5) rotate(-90)" class="xl">11-Dec-24</text>
<text transform="translate(787.03,420.5) rotate(-90)" class="xl">19-Dec-24</text>
<text transform="translate(810.30,420.5) rotate(-90)" class="xl">27-Dec-24</text>
<text transform="translate(833.58,420.5) rotate(-90)" class="xl">06-Jan-25</text>
<text transform="translate(856.86,420.5) rotate(-90)" class="xl">14-Jan-25</text>
<text transform="translate(880.14,420.5) rotate(-90)" class="xl">22-Jan-25</text>
<text transform="translate(903.42,420.5) rotate(-90)" class="xl">30-Jan-25</text>
<text transform="translate(926.70,420.5) rotate(-90)" class="xl">07-Feb-25</text>
<text transform="translate(949.97,420.5) rotate(-90)" class="xl">17-Feb-25</text>
<text transform="translate(973.25,420.5) rotate(-90)" class="xl">25-Feb-25</text>
<text transform="translate(996.53,420.5) rotate(-90)" class="xl">05-Mar-25</text>
<text transform="translate(1019.81,420.5) rotate(-90)" class="xl">13-Mar-25</text>
<text transform="translate(1043.09,420.5) rotate(-90)" class="xl">21-Mar-25</text>
<text transform="translate(1066.37,420.5) rotate(-90)" class="xl">31-Mar-25</text>
<text transform="translate(1089.64,420.5) rotate(-90)" class="xl">08-Apr-25</text>
<text transform="translate(1112.92,420.5) rotate(-90)" class="xl">16-Apr-25</text>
<text transform="translate(1136.20,420.5) rotate(-90)" class="xl">24-Apr-25</text>
<line x1="95.2" y1="385.3" x2="1146" y2="247.3" stroke="#0000ff" stroke-width="1"/>
<line x1="643.2" y1="205.6" x2="1150" y2="183.4" stroke="#0000ff" stroke-width="1"/>
<line x1="698" y1="50.5" x2="1166" y2="53.8" stroke="#ff0000" stroke-width="1"/>
</svg>
<div class="title"><span>DJIA - Daily Candles</span></div>
<div class="wm">www.kshitij.com</div>
</body></html>
